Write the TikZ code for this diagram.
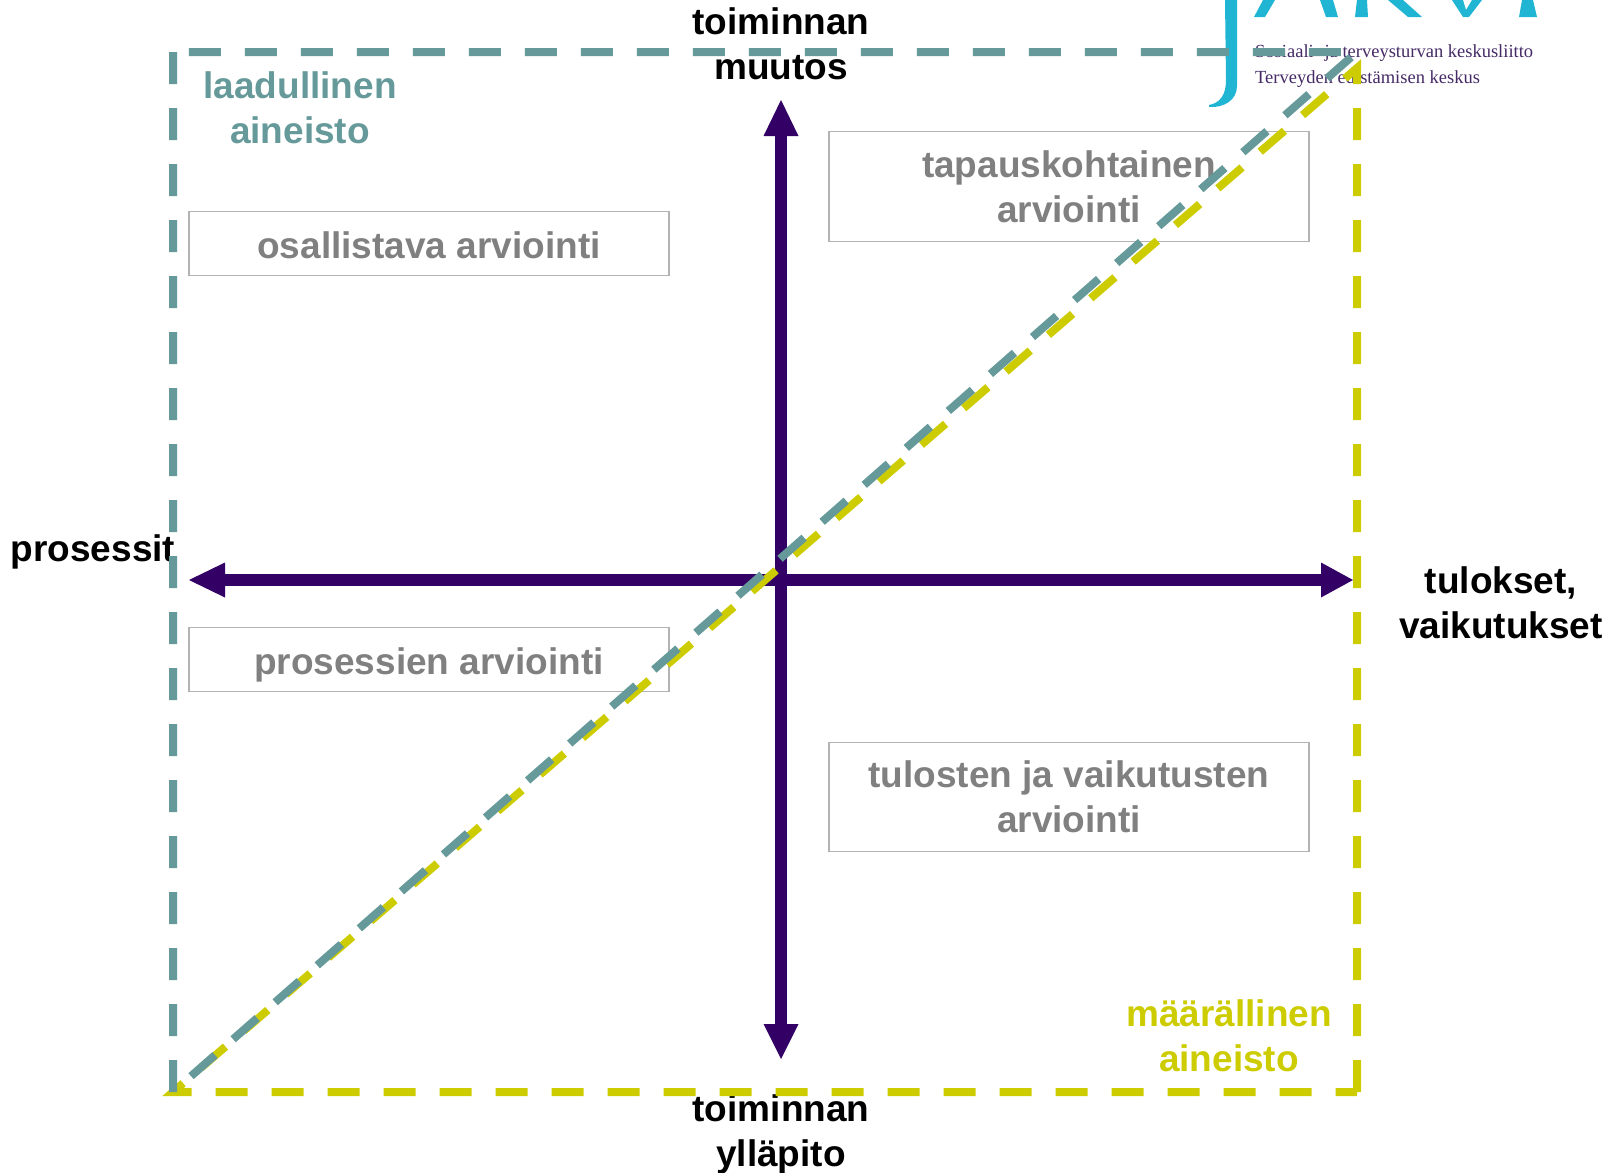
\documentclass[tikz,border=0pt]{standalone}
\usepackage{fontspec}
\setmainfont{Liberation Sans}
\newfontfamily\logofont{Liberation Serif}
\usetikzlibrary{arrows.meta}
\definecolor{axiscol}{HTML}{330066}
\definecolor{tealcol}{HTML}{669999}
\definecolor{yellowcol}{HTML}{CCCC00}
\definecolor{greycol}{HTML}{808080}
\definecolor{framecol}{HTML}{B2B2B2}
\definecolor{logocyan}{HTML}{1FB5D3}
\definecolor{logotext}{HTML}{452A66}

\begin{document}
\begin{tikzpicture}[
    x=1pt, y=-1pt,
    font=\fontsize{37}{45}\selectfont\bfseries,
    % Node styles:
    block/.style={rectangle, draw=framecol, line width=1.4pt, text=greycol, align=center,
                  minimum width=480pt, inner sep=0pt, text depth=0pt,
                  execute at begin node={\rule{0pt}{30pt}}},
    label/.style={align=center, inner sep=0pt, anchor=base},
    % Line styles:
    line/.style 2 args={{Triangle[length=#1,width=35pt,line width=0pt]}-{Triangle[length=#2,width=35pt,line width=0pt]},
                 line width=12pt, axiscol},
    frame/.style={line width=8pt, dash pattern=on 32pt off 24pt, miter limit=10},
    logo/.style={fill=logocyan, draw=none},
]
\useasboundingbox (0,0) rectangle (1610,1173);

% --- LOGO ---
\fill[logo] (1237,0) -- (1237,86) .. controls (1237,100) and (1224,108) .. (1209,107)
    -- (1209,105) .. controls (1220,103) and (1226,95) .. (1226,80) -- (1225,0) -- cycle;
\fill[logo] (1254,17) -- (1265,17) -- (1275,0) -- (1263,0) -- cycle;
\fill[logo] (1320,0) -- (1326,17) -- (1338,17) -- (1333,0) -- cycle;
\fill[logo] (1357,0) -- (1355,17) -- (1368,17) -- (1367,0) -- cycle;
\fill[logo] (1388,0) -- (1408,17) -- (1422,17) -- (1403,0) -- cycle;
\fill[logo] (1452,0) -- (1463,17) -- (1469,17) -- (1482,0) -- (1472,0) -- (1466,10) -- (1463,0) -- cycle;
\fill[logo] (1522,0) -- (1519,17) -- (1537,17) -- (1533,0) -- cycle;
\node[anchor=west, align=left, inner sep=0pt, text=logotext,
      font=\logofont\fontsize{18.5}{26.5}\selectfont] (logotxt) at (1255,66)
      {Sosiaali- ja terveysturvan keskusliitto\\Terveyden edistämisen keskus};

% --- BOXES ---
\node[block, minimum height=64pt]  (osall)  at (429,243.5) {osallistava arviointi};
\node[block, minimum height=64pt]  (proses) at (429,659.5) {prosessien arviointi};
\node[block, minimum height=110pt] (tapaus) at (1069,186.5) {tapauskohtainen\\arviointi};
\node[block, minimum height=109pt] (tulos)  at (1069,797)  {tulosten ja vaikutusten\\arviointi};

% --- LABELS ---
\node[label] (muutos)   at (781,79)   {toiminnan\\muutos};
\node[label] (yllapito) at (781,1166) {toiminnan\\ylläpito};
\node[label] (prosessit) at (93,561)  {prosessit};
\node[label] (tulokset) at (1501,638) {tulokset,\\vaikutukset};
\node[label, text=tealcol]   (laadul) at (300,143.5) {laadullinen\\aineisto};
\node[label, text=yellowcol] (maaral) at (1229,1071) {määrällinen\\aineisto};

% --- AXES ---
\coordinate (axtop)    at (781,100);
\coordinate (axbottom) at (781,1059);
\coordinate (axleft)   at (189,580);
\coordinate (axright)  at (1353,580);
\draw[line={36pt}{35pt}] (axtop) -- (axbottom);
\draw[line={36pt}{32pt}] (axleft) -- (axright);

% --- DASHED TRIANGLES ---
\coordinate (corner) at (173,1092);
\coordinate (yright) at (1357,1092);
\coordinate (yapex)  at (1357,68);
\coordinate (ttop)   at (173,52);
\coordinate (tapex)  at (1357,52);
\draw[frame, yellowcol] (yright) -- (yapex) -- (corner) -- (yright);
\draw[frame, tealcol] (ttop) -- (corner) -- (tapex) -- (ttop);

\end{tikzpicture}
\end{document}
